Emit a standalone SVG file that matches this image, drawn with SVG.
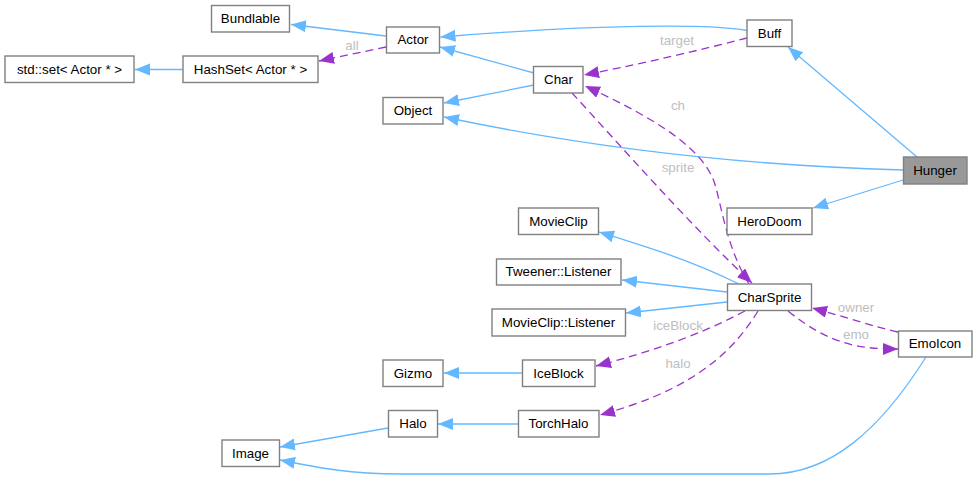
<svg xmlns="http://www.w3.org/2000/svg" width="977" height="480" viewBox="0 0 977 480">
<style>
text{font-family:"Liberation Sans",Arial,sans-serif;font-size:13.33px;text-anchor:middle}
.n rect{fill:#fff;stroke:#808080;stroke-width:1.4}
.n text{fill:#000}
.cur rect{fill:#999}
.l{fill:#bebebe}
.i,.u{fill:none;stroke-width:1.3}
.i{stroke:#63b8ff}
.u{stroke:#9a32cd;stroke-dasharray:8,5}
</style>
<defs>
<marker id="ai" markerUnits="userSpaceOnUse" markerWidth="16" markerHeight="14" refX="15" refY="6" orient="auto"><path d="M15 6L0 0V12Z" fill="#63b8ff"/></marker>
<marker id="au" markerUnits="userSpaceOnUse" markerWidth="16" markerHeight="14" refX="15" refY="6" orient="auto"><path d="M15 6L0 0V12Z" fill="#9a32cd"/></marker>
</defs>
<g id="connectors">
<g marker-end="url(#ai)">
<path class="i" d="M386 36L291 24.500"/>
<path class="i" d="M183 69.500H135"/>
<path class="i" d="M747 30.500C710 24 600 24 440.500 37"/>
<path class="i" d="M534 73L440 47"/>
<path class="i" d="M534 85L444 103"/>
<path class="i" d="M917 157L788 47"/>
<path class="i" d="M903 170C760 166 600 150 444 117"/>
<path class="i" d="M903 180L813 208"/>
<path class="i" d="M739 284C690 260 650 248 599 232"/>
<path class="i" d="M727 292L622 280"/>
<path class="i" d="M727 302L626 313"/>
<path class="i" d="M522 373H444"/>
<path class="i" d="M518 424H438"/>
<path class="i" d="M388 428L280 447"/>
<path class="i" d="M926 357C880 430 830 474 770 474H400C350 474 320 468 280 460"/>
</g>
<g marker-end="url(#au)">
<path class="u" d="M386 47L319 61"/>
<path class="u" d="M747 38C700 50 650 62 584 75"/>
<path class="u" d="M749 284C728 250 722 210 716 188C708 155 670 125 585 86"/>
<path class="u" d="M572 93C620 145 690 225 752 283"/>
<path class="u" d="M745 311C700 335 650 352 596 366"/>
<path class="u" d="M758 311C727 362 680 393 600 415"/>
<path class="u" d="M788 311C830 345 860 349 898 349"/>
<path class="u" d="M898 332C870 326 850 318 812 308"/>
</g>
</g>
<g id="labels">
<text class="l" x="352" y="50">all</text>
<text class="l" x="677" y="45">target</text>
<text class="l" x="678" y="110">ch</text>
<text class="l" x="678" y="172">sprite</text>
<text class="l" x="678" y="330">iceBlock</text>
<text class="l" x="678" y="368">halo</text>
<text class="l" x="856" y="312">owner</text>
<text class="l" x="856" y="339">emo</text>
</g>
<g id="node-bundlable" class="n"><rect x="211.500" y="5.500" width="78" height="26.500"/><text x="250.500" y="23">Bundlable</text></g>
<g id="node-actor" class="n"><rect x="386.500" y="27" width="53" height="26"/><text x="413" y="44">Actor</text></g>
<g id="node-stdset" class="n"><rect x="5" y="56" width="129" height="26.500"/><text x="69.500" y="74">std::set&lt; Actor * &gt;</text></g>
<g id="node-hashset" class="n"><rect x="183" y="56" width="135" height="26.500"/><text x="250.500" y="74">HashSet&lt; Actor * &gt;</text></g>
<g id="node-object" class="n"><rect x="383" y="97.500" width="60" height="26.500"/><text x="413" y="115">Object</text></g>
<g id="node-buff" class="n"><rect x="747" y="20" width="45" height="26.500"/><text x="769.500" y="38">Buff</text></g>
<g id="node-char" class="n"><rect x="533.500" y="66.500" width="49.500" height="26.500"/><text x="558.500" y="84">Char</text></g>
<g id="node-hunger" class="n cur"><rect x="903.500" y="157" width="63.500" height="27"/><text x="935" y="175">Hunger</text></g>
<g id="node-herodoom" class="n"><rect x="727" y="208" width="85" height="26.500"/><text x="769.500" y="226">HeroDoom</text></g>
<g id="node-movieclip" class="n"><rect x="518.500" y="208" width="80" height="26.500"/><text x="558.500" y="226">MovieClip</text></g>
<g id="node-tweener" class="n"><rect x="496.500" y="259" width="124.500" height="26"/><text x="558.500" y="276">Tweener::Listener</text></g>
<g id="node-mclistener" class="n"><rect x="492" y="309" width="133.500" height="27"/><text x="558.500" y="327">MovieClip::Listener</text></g>
<g id="node-charsprite" class="n"><rect x="727.500" y="284" width="84" height="26.500"/><text x="769.500" y="302">CharSprite</text></g>
<g id="node-emoicon" class="n"><rect x="898.500" y="331" width="73.500" height="26"/><text x="935" y="348">EmoIcon</text></g>
<g id="node-iceblock" class="n"><rect x="522.500" y="360" width="72.500" height="26.500"/><text x="558.500" y="378">IceBlock</text></g>
<g id="node-gizmo" class="n"><rect x="383" y="360" width="60" height="26.500"/><text x="413" y="378">Gizmo</text></g>
<g id="node-halo" class="n"><rect x="388.500" y="410.500" width="49" height="26.500"/><text x="413" y="428">Halo</text></g>
<g id="node-torchhalo" class="n"><rect x="518.500" y="410.500" width="80.500" height="26.500"/><text x="558.500" y="428">TorchHalo</text></g>
<g id="node-image" class="n"><rect x="222" y="440" width="57.500" height="26.500"/><text x="250.500" y="458">Image</text></g>
</svg>
